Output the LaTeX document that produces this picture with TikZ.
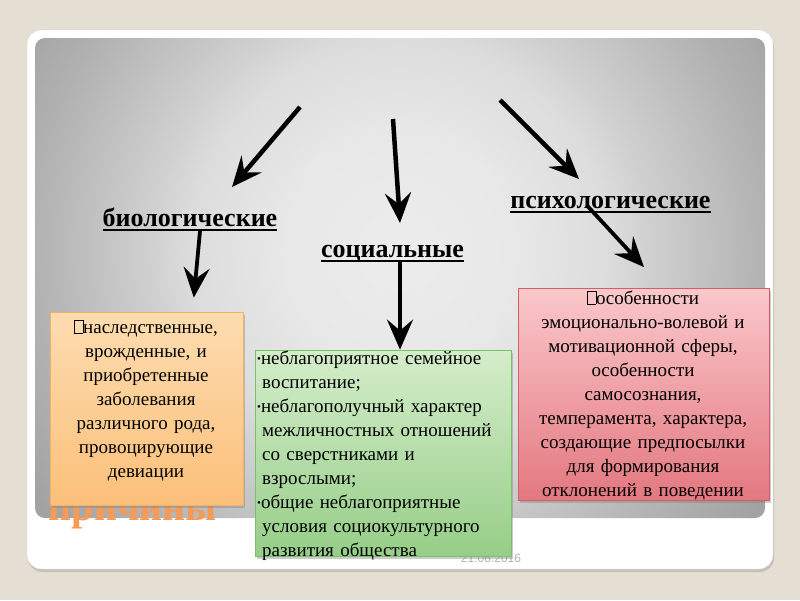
\documentclass[tikz,border=0pt]{standalone}
\usepackage{fontspec}
\setmainfont{Liberation Serif}
\newfontfamily\datefont{Liberation Sans}
\usetikzlibrary{positioning, arrows.meta, shadows, calc}
\definecolor{slidebg}{HTML}{E4DED3}
\definecolor{panelin}{HTML}{ECECEC}
\definecolor{panelhi}{HTML}{E8E8E8}
\definecolor{panelmid}{HTML}{DCDCDC}
\definecolor{panellow}{HTML}{D0D0D0}
\definecolor{paneldark}{HTML}{B2B2B2}
\definecolor{panelout}{HTML}{A2A2A2}
\definecolor{orangetop}{HTML}{FDDCB0}
\definecolor{orangebot}{HTML}{FBC07A}
\definecolor{orangeedge}{HTML}{F0B068}
\definecolor{greentop}{HTML}{D4EDCA}
\definecolor{greenbot}{HTML}{96CE88}
\definecolor{greenedge}{HTML}{7CBF6A}
\definecolor{redtop}{HTML}{FAC8CB}
\definecolor{redbot}{HTML}{E37880}
\definecolor{rededge}{HTML}{CF5F69}
\definecolor{titleorange}{HTML}{F79A55}
\pgfdeclareradialshading{panelshade}{\pgfpoint{0bp}{0bp}}{color(0bp)=(panelin); color(6bp)=(panelhi); color(11bp)=(panelmid); color(13bp)=(panellow); color(19bp)=(paneldark); color(23bp)=(panelout); color(50bp)=(panelout)}
\newcommand{\tofu}{{\setlength{\fboxsep}{0pt}\setlength{\fboxrule}{0.5pt}\fbox{\rule{0pt}{13pt}\hspace{8pt}}}}
\newcommand{\gbul}{{\fontsize{11}{11}\selectfont\raisebox{2pt}{•}}}

\begin{document}
\begin{tikzpicture}[x=1pt, y=-1pt,
    lbl/.style={font=\fontsize{26}{30}\selectfont\bfseries, inner sep=0pt},
    uline/.style={line width=1.6pt},
    arr/.style={line width=4.5pt, -{Stealth[length=30pt, width=26pt, inset=11pt]}},
    boxbase/.style={inner sep=0pt, line width=0.8pt,
      drop shadow={shadow xshift=2pt, shadow yshift=-3pt, opacity=0.4}},
    obox/.style={boxbase, draw=orangeedge, top color=orangetop, bottom color=orangebot},
    gbox/.style={boxbase, draw=greenedge, top color=greentop, bottom color=greenbot},
    rbox/.style={boxbase, draw=rededge, top color=redtop, bottom color=redbot},
    bodytext/.style={font=\fontsize{19}{24}\selectfont, inner sep=0pt}]
  % фон слайда
  \fill[slidebg] (0,0) rectangle (800,600);
  \filldraw[white, draw=black!15, rounded corners=14pt,
    drop shadow={shadow xshift=1pt, shadow yshift=-3pt, opacity=0.3}] (27,30) rectangle (773,569);
  \begin{scope}
    \clip[rounded corners=10pt] (35,38) rectangle (765,518);
    \shade[shading=panelshade] (400,250) circle (480);
  \end{scope}
  % заголовок и дата (под блоками)
  \node[font=\fontsize{40}{44}\selectfont\bfseries, text=titleorange, inner sep=0pt, anchor=base]
    (title) at (133,520) {причины};
  \node[font=\datefont\fontsize{12}{14}\selectfont, text=black!30, inner sep=0pt, anchor=base]
    (date) at (491,562) {21.06.2016};
  % блоки
  \node[obox, minimum width=193pt, minimum height=193pt] (biobox) at (146.5,408.5) {};
  \node[gbox, minimum width=256pt, minimum height=206pt] (socbox) at (383,453) {};
  \node[rbox, minimum width=251pt, minimum height=212pt] (psybox) at (643.5,394) {};
  \node[bodytext, text width=190pt, align=center, anchor=base] (biotext) at (146,333)
    {\tofu наследственные,\\ врожденные, и\\ приобретенные\\ заболевания\\ различного рода,\\ провоцирующие\\ девиации};
  \node[bodytext, text width=254pt, align=left, anchor=base west] (soctext) at (257,364)
    {\gbul неблагоприятное семейное\\ \hspace*{5pt}воспитание;\\ \gbul неблагополучный характер\\
     \hspace*{5pt}межличностных отношений\\ \hspace*{5pt}со сверстниками и\\ \hspace*{5pt}взрослыми;\\
     \gbul общие неблагоприятные\\ \hspace*{5pt}условия социокультурного\\ \hspace*{5pt}развития общества};
  \node[bodytext, text width=250pt, align=center, anchor=base] (psytext) at (643,304)
    {\tofu особенности\\ эмоционально-волевой и\\ мотивационной сферы,\\ особенности\\ самосознания,\\
     темперамента, характера,\\ создающие предпосылки\\ для формирования\\ отклонений в поведении};
  % подписи
  \node[lbl, anchor=base] (bio) at (190,226) {биологические};
  \node[lbl, anchor=base] (soc) at (392.5,257) {социальные};
  \node[lbl, anchor=base] (psy) at (610.5,208) {психологические};
  \foreach \n in {bio, soc, psy}
    \draw[uline] ([yshift=-4pt]\n.base west) -- ([yshift=-4pt]\n.base east);
  % стрелки сверху
  \coordinate (t1) at (300,107); \coordinate (h1) at (232,187);
  \coordinate (t2) at (393,119); \coordinate (h2) at (400,223);
  \coordinate (t3) at (500,100); \coordinate (h3) at (579,179);
  \draw[arr] (t1) -- (h1);
  \draw[arr] (t2) -- (h2);
  \draw[arr] (t3) -- (h3);
  % стрелки к блокам
  \draw[arr, line width=3.8pt] ([xshift=10pt, yshift=-5pt]bio.base) -- ([xshift=46pt]biobox.north)
    [shorten >=14pt];
  \draw[arr, line width=3.8pt] ([xshift=7.5pt]soc.south) -- ([xshift=17pt]socbox.north);
  \draw[arr, line width=3.8pt] ([xshift=-24pt, yshift=3pt]psy.base) -- ([xshift=19.5pt]psybox.north)
    [shorten >=28pt];
\end{tikzpicture}
\end{document}
